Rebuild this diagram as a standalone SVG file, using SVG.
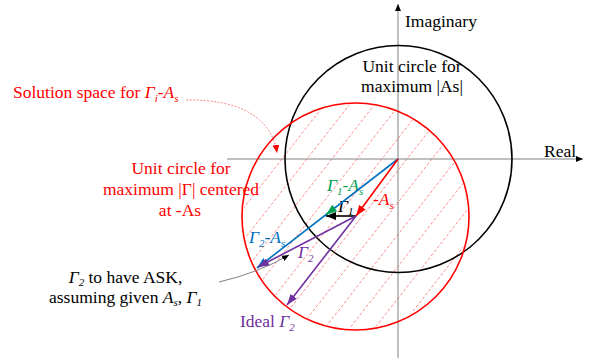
<svg xmlns="http://www.w3.org/2000/svg" width="589" height="362" viewBox="0 0 589 362" font-family="'Liberation Serif', 'Times New Roman', serif">
<style>
text{font-family:"Liberation Serif","Times New Roman",serif;font-size:17.5px}
.it{font-style:italic}
.sub{font-style:italic;font-size:11px}
.axis{stroke:#808080;stroke-width:1;fill:none}
.hatch line{stroke:#ff7070;stroke-width:0.8;stroke-dasharray:3 2}
.circ{fill:none;stroke-width:1.6}
.vec{stroke-width:1.6;fill:none}
</style>
<defs>
<marker id="mBlack" markerUnits="userSpaceOnUse" markerWidth="10" markerHeight="8" refX="10" refY="4" orient="auto"><path d="M0,0 L10,4 L0,8 z" fill="#000"/></marker>
<marker id="mSmall" markerUnits="userSpaceOnUse" markerWidth="7" markerHeight="6" refX="7" refY="3" orient="auto"><path d="M0,0 L7,3 L0,6 z" fill="#000"/></marker>
<marker id="mRed" markerUnits="userSpaceOnUse" markerWidth="11" markerHeight="8" refX="11" refY="4" orient="auto"><path d="M0,0 L11,4 L0,8 z" fill="#ff0000"/></marker>
<marker id="mRedS" markerUnits="userSpaceOnUse" markerWidth="8" markerHeight="7" refX="8" refY="3.5" orient="auto"><path d="M0,0 L8,3.5 L0,7 z" fill="#ff0000"/></marker>
<marker id="mBlue" markerUnits="userSpaceOnUse" markerWidth="11" markerHeight="8" refX="11" refY="4" orient="auto"><path d="M0,0 L11,4 L0,8 z" fill="#0070c0"/></marker>
<marker id="mGreen" markerUnits="userSpaceOnUse" markerWidth="11" markerHeight="8" refX="11" refY="4" orient="auto"><path d="M0,0 L11,4 L0,8 z" fill="#00a050"/></marker>
<marker id="mPurple" markerUnits="userSpaceOnUse" markerWidth="11" markerHeight="8" refX="11" refY="4" orient="auto"><path d="M0,0 L11,4 L0,8 z" fill="#7030a0"/></marker>
<clipPath id="redClip"><circle cx="355.5" cy="216.5" r="112"/></clipPath>
</defs>

<g id="hatch" class="hatch" clip-path="url(#redClip)">
<line x1="144.6" y1="334.7" x2="329.4" y2="98.3"/>
<line x1="169.6" y1="334.7" x2="354.4" y2="98.3"/>
<line x1="194.6" y1="334.7" x2="379.4" y2="98.3"/>
<line x1="219.6" y1="334.7" x2="404.4" y2="98.3"/>
<line x1="244.6" y1="334.7" x2="429.4" y2="98.3"/>
<line x1="269.6" y1="334.7" x2="454.4" y2="98.3"/>
<line x1="294.6" y1="334.7" x2="479.4" y2="98.3"/>
<line x1="319.6" y1="334.7" x2="504.4" y2="98.3"/>
<line x1="344.6" y1="334.7" x2="529.4" y2="98.3"/>
<line x1="369.6" y1="334.7" x2="554.4" y2="98.3"/>
<line x1="394.6" y1="334.7" x2="579.4" y2="98.3"/>
</g>

<g id="axes">
<line class="axis" x1="398" y1="358" x2="398" y2="4" marker-end="url(#mSmall)"/>
<line class="axis" x1="227" y1="159" x2="583" y2="159" marker-end="url(#mSmall)"/>
<text x="405" y="27">Imaginary</text>
<text x="544" y="157">Real</text>
</g>

<g id="unit-circle-As">
<circle class="circ" cx="398.5" cy="159" r="113.5" stroke="#000"/>
<text x="412" y="72" text-anchor="middle">Unit circle for</text>
<text x="412" y="92" text-anchor="middle">maximum |As|</text>
</g>

<g id="unit-circle-gamma">
<circle class="circ" cx="355.5" cy="216.5" r="113.5" stroke="#ff0000"/>
<text x="181" y="174" text-anchor="middle" fill="#ff0000">Unit circle for</text>
<text x="181" y="195" text-anchor="middle" fill="#ff0000">maximum |Γ| centered</text>
<text x="180" y="216" text-anchor="middle" fill="#ff0000">at -As</text>
</g>

<g id="solution-space-label">
<text x="13" y="98" fill="#ff0000">Solution space for <tspan class="it">Γ</tspan><tspan class="sub" dy="3.5">i</tspan><tspan dy="-3.5">-</tspan><tspan class="it">A</tspan><tspan class="sub" dy="3.5">s</tspan></text>
</g>

<g id="ask-label">
<text x="125.5" y="283" text-anchor="middle"><tspan class="it">Γ</tspan><tspan class="sub" dy="3">2</tspan><tspan dy="-3"> to have ASK,</tspan></text>
<text x="125.5" y="302.5" text-anchor="middle">assuming given <tspan class="it">A</tspan><tspan class="sub" dy="3.5">s</tspan><tspan dy="-3.5">, </tspan><tspan class="it">Γ</tspan><tspan class="sub" dy="3.5">1</tspan></text>
</g>

<g id="vector-labels">
<text x="327" y="191" fill="#00a050"><tspan class="it">Γ</tspan><tspan class="sub" dy="3.5">1</tspan><tspan dy="-3.5">-</tspan><tspan class="it">A</tspan><tspan class="sub" dy="3.5">s</tspan></text>
<text x="373" y="205" fill="#ff0000">-<tspan class="it">A</tspan><tspan class="sub" dy="3.5">s</tspan></text>
<text x="338" y="211.5"><tspan class="it">Γ</tspan><tspan class="sub" dy="3.5">1</tspan></text>
<text x="249" y="243" fill="#0070c0"><tspan class="it">Γ</tspan><tspan class="sub" dy="3.5">2</tspan><tspan dy="-3.5">-</tspan><tspan class="it">A</tspan><tspan class="sub" dy="3.5">s</tspan></text>
<text x="298" y="258" fill="#7030a0"><tspan class="it">Γ</tspan><tspan class="sub" dy="3.5">2</tspan></text>
<text x="240" y="327" fill="#7030a0">Ideal <tspan class="it">Γ</tspan><tspan class="sub" dy="3.5">2</tspan></text>
</g>

<g id="connectors">
<path d="M186,100 C240,99 272,118 277,153" fill="none" stroke="#ff6a6a" stroke-width="0.8" stroke-dasharray="2 1.5" marker-end="url(#mRedS)"/>
<path d="M219,282 Q258,273 289,255" fill="none" stroke="#808080" stroke-width="1" marker-end="url(#mSmall)"/>
<line class="vec" x1="398" y1="159" x2="257" y2="268" stroke="#0070c0" marker-end="url(#mBlue)"/>
<line class="vec" x1="333.9" y1="208.6" x2="326" y2="214.7" stroke="#00a050" marker-end="url(#mGreen)"/>
<line class="vec" x1="398" y1="159" x2="356" y2="216" stroke="#ff0000" marker-end="url(#mRed)"/>
<line class="vec" x1="356" y1="216" x2="326" y2="216" stroke="#000" marker-end="url(#mBlack)"/>
<line class="vec" x1="356" y1="216" x2="258" y2="267" stroke="#7030a0" marker-end="url(#mPurple)"/>
<line class="vec" x1="356" y1="216" x2="287" y2="305" stroke="#7030a0" marker-end="url(#mPurple)"/>
</g>
</svg>
